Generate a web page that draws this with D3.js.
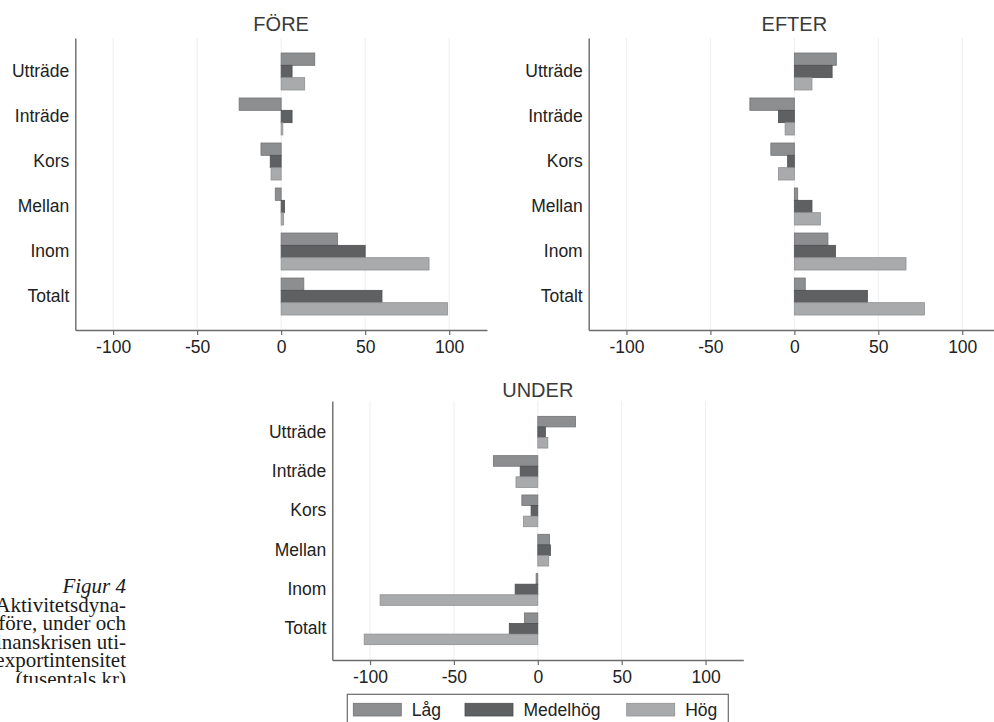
<!DOCTYPE html>
<html>
<head>
<meta charset="utf-8">
<script src="https://cdn.jsdelivr.net/npm/d3@7/dist/d3.min.js"></script>
<style>
  html, body { margin: 0; padding: 0; background: #fff; }
  svg { display: block; }
</style>
</head>
<body>
<svg id="chart" width="994" height="722"></svg>
<script>
// ---------------- DATA ----------------
const categories = ["Utträde", "Inträde", "Kors", "Mellan", "Inom", "Totalt"];
const seriesNames = ["Låg", "Medelhög", "Hög"];
const xTicks = [-100, -50, 0, 50, 100];

const foreLag    = [20, -25, -12, -3.5, 33.5, 13.5];
const foreMedel  = [6.5, 6.5, -6.5, 2, 50, 60];
const foreHog    = [14, 1, -6, 1.5, 88, 99];

const efterLag   = [25, -26.5, -14, 2, 20, 6.5];
const efterMedel = [22.5, -9.5, -4, 10.5, 24.5, 43.5];
const efterHog   = [10.5, -5.5, -9.5, 15.5, 66.5, 77.5];

const underLag   = [22.5, -26.5, -9.5, 7, -1, -8];
const underMedel = [4.5, -10.5, -4, 7.5, -13.5, -17];
const underHog   = [6, -13, -8.5, 6.5, -94, -103.5];

const captionLines = ["Figur 4", "Aktivitetsdyna-", "före, under och", "finanskrisen uti-", "exportintensitet", "(tusentals kr)"];

// ---------------- STYLE ----------------
const fills   = { "Låg": "#8d8e90", "Medelhög": "#5f6062", "Hög": "#a9aaac" };
const strokes = { "Låg": "#727375", "Medelhög": "#4e4f51", "Hög": "#8f9092" };
const sansFont = "'Liberation Sans', Arial, sans-serif";

const svg = d3.select("#chart");
svg.append("rect").attr("width", 994).attr("height", 722).attr("fill", "#fff");

const panels = [
  { title: "FÖRE",  values: [foreLag, foreMedel, foreHog],    x0: 75.3,  x1: 487,    y0: 38,  y1: 330, titleY: 23.5, pi: 0.178, po: 0.333 },
  { title: "EFTER", values: [efterLag, efterMedel, efterHog], x0: 588.7, x1: 1000,   y0: 38,  y1: 330, titleY: 23.5, pi: 0.178, po: 0.333 },
  { title: "UNDER", values: [underLag, underMedel, underHog], x0: 332.3, x1: 743.3,  y0: 401, y1: 660, titleY: 389.5, pi: 0.193, po: 0.39 }
];

panels.forEach(p => {
  const g = svg.append("g");
  const x = d3.scaleLinear().domain([-122.5, 122.5]).range([p.x0, p.x1]);
  const y = d3.scaleBand().domain(categories).range([p.y0, p.y1])
    .paddingInner(p.pi).paddingOuter(p.po);
  const ySub = d3.scaleBand().domain(seriesNames).range([0, y.bandwidth()]).padding(0);

  // gridlines
  g.append("g").selectAll("line").data(xTicks).join("line")
    .attr("x1", d => x(d)).attr("x2", d => x(d))
    .attr("y1", p.y0).attr("y2", p.y1)
    .attr("stroke", "#efefef").attr("stroke-width", 1);

  // bars
  const rows = [];
  categories.forEach((c, i) => {
    seriesNames.forEach((s, j) => rows.push({ cat: c, ser: s, v: p.values[j][i] }));
  });
  g.append("g").selectAll("rect").data(rows).join("rect")
    .attr("x", d => Math.min(x(0), x(d.v)))
    .attr("width", d => Math.abs(x(d.v) - x(0)))
    .attr("y", d => y(d.cat) + ySub(d.ser))
    .attr("height", ySub.bandwidth())
    .attr("fill", d => fills[d.ser])
    .attr("stroke", d => strokes[d.ser])
    .attr("stroke-width", 0.8);

  // x axis
  const xAxis = d3.axisBottom(x).tickValues(xTicks).tickFormat(d => String(d))
    .tickSize(5).tickPadding(6).tickSizeOuter(0);
  const ax = g.append("g").attr("transform", `translate(0,${p.y1})`).call(xAxis);
  ax.select(".domain").attr("stroke", "#6b6b6b").attr("stroke-width", 1.4);
  ax.selectAll(".tick line").attr("stroke", "#6b6b6b").attr("stroke-width", 1.2);
  ax.selectAll(".tick text").attr("font-family", sansFont).attr("font-size", 17.5).attr("fill", "#222");

  // y axis (labels only, no ticks)
  const yAxis = d3.axisLeft(y).tickSize(0).tickPadding(6);
  const ay = g.append("g").attr("transform", `translate(${p.x0},0)`).call(yAxis);
  ay.select(".domain").attr("stroke", "#6b6b6b").attr("stroke-width", 1.4);
  ay.selectAll(".tick text").attr("font-family", sansFont).attr("font-size", 17.5).attr("fill", "#222");

  // title
  g.append("text").attr("x", (p.x0 + p.x1) / 2).attr("y", p.titleY)
    .attr("text-anchor", "middle").attr("dominant-baseline", "central")
    .attr("font-family", sansFont).attr("font-size", 20).attr("fill", "#3a3a3a")
    .text(p.title);
});

// legend
const lg = svg.append("g");
lg.append("rect").attr("x", 347.3).attr("y", 694.3).attr("width", 381).attr("height", 40)
  .attr("fill", "#fff").attr("stroke", "#6b6b6b").attr("stroke-width", 1.2);
const legendX = d3.scaleOrdinal().domain(seriesNames).range([353.3, 465, 626.7]);
seriesNames.forEach(s => {
  lg.append("rect").attr("x", legendX(s)).attr("y", 703.3).attr("width", 48).attr("height", 12.7)
    .attr("fill", fills[s]).attr("stroke", strokes[s]).attr("stroke-width", 0.8);
  lg.append("text").attr("x", legendX(s) + 58.5).attr("y", 710)
    .attr("dominant-baseline", "central")
    .attr("font-family", sansFont).attr("font-size", 17.5).attr("fill", "#222").text(s);
});

// caption (left side, partially cropped)
svg.append("clipPath").attr("id", "capclip").append("rect")
  .attr("x", 0).attr("y", 0).attr("width", 330).attr("height", 683);
const cap = svg.append("g").attr("clip-path", "url(#capclip)");
captionLines.forEach((t, i) => {
  cap.append("text").attr("x", 126).attr("y", 593 + i * 18.6)
    .attr("text-anchor", "end")
    .attr("font-family", "'Liberation Serif', 'DejaVu Serif', serif")
    .attr("font-style", i === 0 ? "italic" : "normal")
    .attr("font-size", 21).attr("fill", "#1a1a1a")
    .text(t);
});
</script>
</body>
</html>
